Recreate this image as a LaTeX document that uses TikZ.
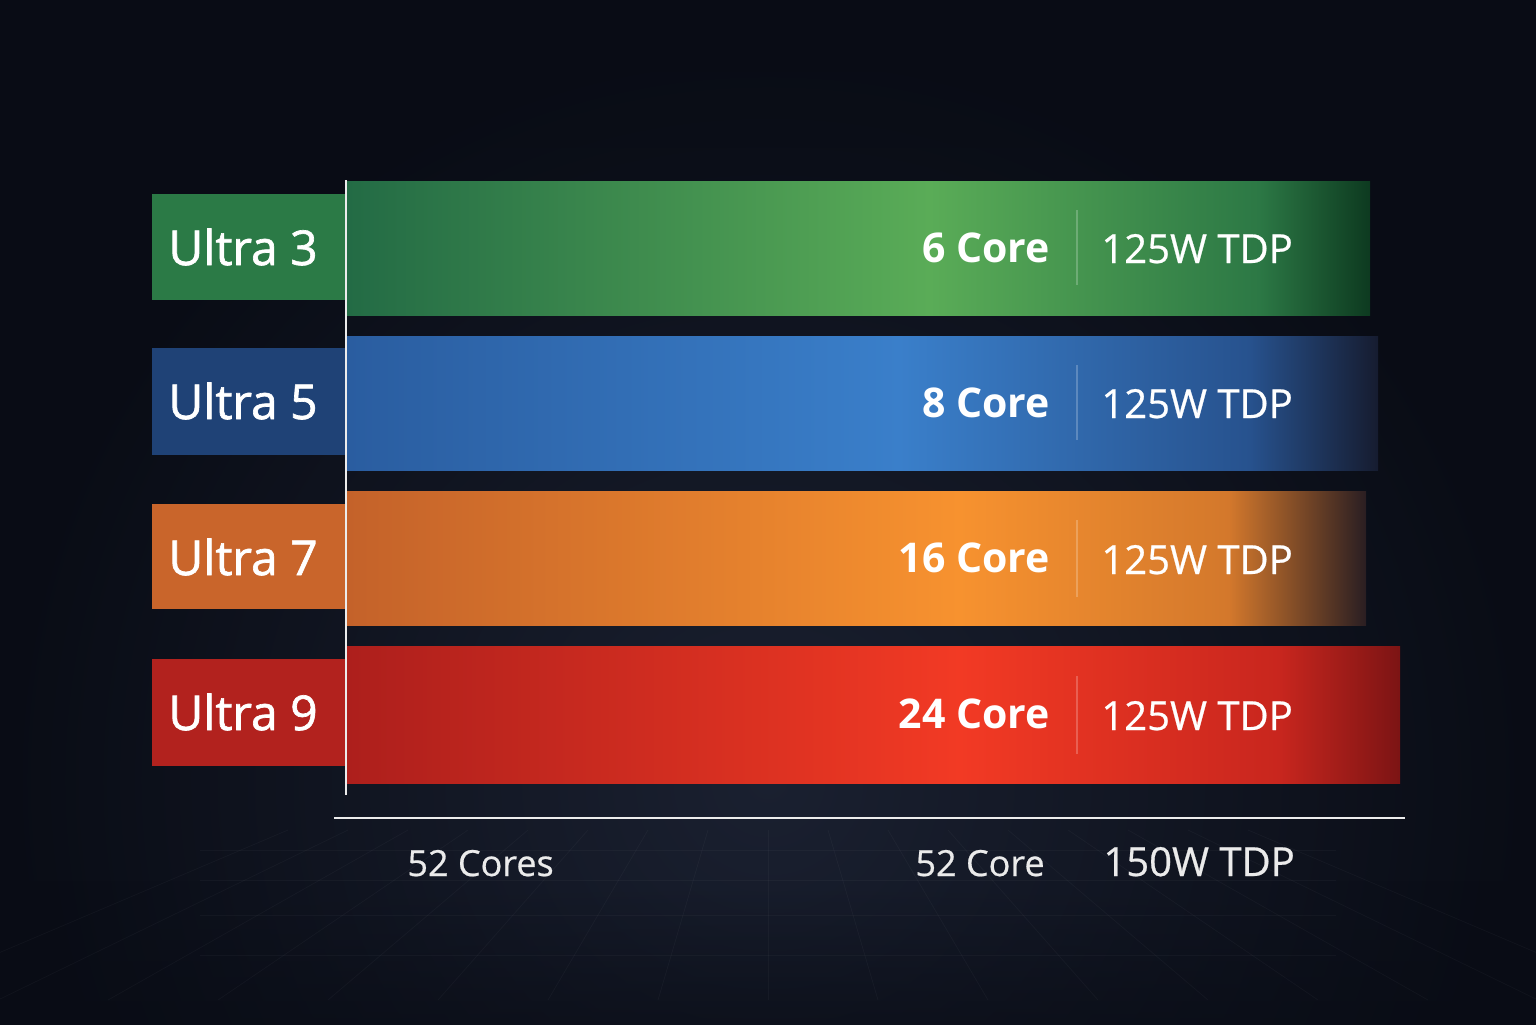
\documentclass[tikz,border=0pt]{standalone}
\usepackage{fontspec}
\setmainfont{Open Sans}
\newfontfamily\medfont[FakeBold=1.4]{Open Sans}
\newfontfamily\semifont[FakeBold=0.6]{Open Sans}
\usetikzlibrary{fadings}
\definecolor{bgA}{HTML}{090C15}
\definecolor{bgB}{HTML}{1A2030}
\definecolor{gL}{HTML}{236B45}\definecolor{gM}{HTML}{5AAC57}\definecolor{gN}{HTML}{2C7845}\definecolor{gR}{HTML}{0D3A20}
\definecolor{bL}{HTML}{2A5DA0}\definecolor{bM}{HTML}{3A7FCA}\definecolor{bN}{HTML}{27528E}\definecolor{bR}{HTML}{161C30}
\definecolor{oL}{HTML}{C4622A}\definecolor{oM}{HTML}{F7922F}\definecolor{oN}{HTML}{D3782C}\definecolor{oR}{HTML}{2A1E22}
\definecolor{rL}{HTML}{AD1F1C}\definecolor{rM}{HTML}{F23A24}\definecolor{rN}{HTML}{C8261E}\definecolor{rR}{HTML}{7C1414}
\definecolor{gBox}{HTML}{2B7A46}\definecolor{bBox}{HTML}{1F4276}\definecolor{oBox}{HTML}{C9652B}\definecolor{rBox}{HTML}{B2221E}
\tikzset{
  tierlabel/.style={text=white,font=\medfont\fontsize{24}{28}\selectfont,anchor=base west,inner sep=0pt},
  corelabel/.style={text=white,font=\bfseries\fontsize{20.5}{24}\selectfont,anchor=base east,inner sep=0pt},
  tdplabel/.style={text=white,font=\semifont\fontsize{20}{24}\selectfont,anchor=base west,inner sep=0pt},
  axislabel/.style={text=white!92!black,font=\semifont\fontsize{18}{22}\selectfont,inner sep=0pt},
  divider/.style={white,opacity=0.22,line width=0.6pt},
  axisline/.style={white!85!gray,line width=0.8pt}
}
\begin{document}
\begin{tikzpicture}[x=0.5pt,y=-0.5pt]
\useasboundingbox (0,0) rectangle (1536,1024);
% background
\begin{scope}
  \clip (0,0) rectangle (1536,1024);
  \fill[bgA] (-20,-20) rectangle (1556,1044);
  \shade[inner color=bgB,outer color=bgA] (768,780) circle (760);
  \fill[bgA,path fading=south,opacity=0.7] (-20,-20) rectangle (1556,300);
  \fill[bgA,path fading=north,opacity=0.75] (-20,880) rectangle (1556,1060);
  % faint floor grid
  \begin{scope}[white,opacity=0.03,line width=0.4pt]
    \foreach \i in {-8,...,8} { \draw (768+\i*60,830) -- (768+\i*110,1000); }
    \foreach \yy in {850,880,915,955} { \draw (200,\yy) -- (1336,\yy); }
  \end{scope}
\end{scope}
% label boxes
\fill[gBox] (152,194) rectangle (345,300);
\fill[bBox] (152,348) rectangle (345,455);
\fill[oBox] (152,504) rectangle (345,609);
\fill[rBox] (152,659) rectangle (345,766);
% bars: green
\shade[left color=gL,right color=gM] (347,181) rectangle (930,315);
\shade[left color=gM,right color=gN] (929,181) rectangle (1260,315);
\shade[left color=gN,right color=gR] (1259,181) rectangle (1370,315);
% blue
\shade[left color=bL,right color=bM] (347,336) rectangle (900,470);
\shade[left color=bM,right color=bN] (899,336) rectangle (1250,470);
\shade[left color=bN,right color=bR] (1249,336) rectangle (1378,470);
% orange
\shade[left color=oL,right color=oM] (347,491) rectangle (960,625);
\shade[left color=oM,right color=oN] (959,491) rectangle (1230,625);
\shade[left color=oN,right color=oR] (1229,491) rectangle (1366,625);
% red
\shade[left color=rL,right color=rM] (347,646) rectangle (960,783);
\shade[left color=rM,right color=rN] (959,646) rectangle (1280,783);
\shade[left color=rN,right color=rR] (1279,646) rectangle (1400,783);
% dividers
\draw[divider] (1077,210) -- (1077,285);
\draw[divider] (1077,365) -- (1077,440);
\draw[divider] (1077,520) -- (1077,597);
\draw[divider] (1077,676) -- (1077,754);
% axes
\coordinate (vtop) at (346,180);
\coordinate (vbot) at (346,795);
\coordinate (hl) at (334,818);
\coordinate (hr) at (1405,818);
\draw[axisline] (vtop) -- (vbot);
\draw[axisline,line width=1pt] (hl) -- (hr);
% tier labels
\node[tierlabel] (u3) at (168,265) {Ultra 3};
\node[tierlabel] (u5) at (168,419) {Ultra 5};
\node[tierlabel] (u7) at (168,575) {Ultra 7};
\node[tierlabel] (u9) at (168,730) {Ultra 9};
% core labels
\node[corelabel] (c3) at (1050,262) {6 Core};
\node[corelabel] (c5) at (1050,417) {8 Core};
\node[corelabel] (c7) at (1050,572) {16 Core};
\node[corelabel] (c9) at (1050,728) {24 Core};
% tdp labels
\node[tdplabel] (t3) at (1101,263) {125W TDP};
\node[tdplabel] (t5) at (1101,418) {125W TDP};
\node[tdplabel] (t7) at (1101,574) {125W TDP};
\node[tdplabel] (t9) at (1101,730) {125W TDP};
% bottom labels
\node[axislabel,anchor=base west] (tot) at (407,876) {52 Cores};
\node[axislabel,anchor=base east] (totc) at (1045,876) {52 Core};
\node[axislabel,anchor=base west,font=\semifont\fontsize{20}{24}\selectfont] (tott) at (1103,876) {150W TDP};
\end{tikzpicture}
\end{document}
